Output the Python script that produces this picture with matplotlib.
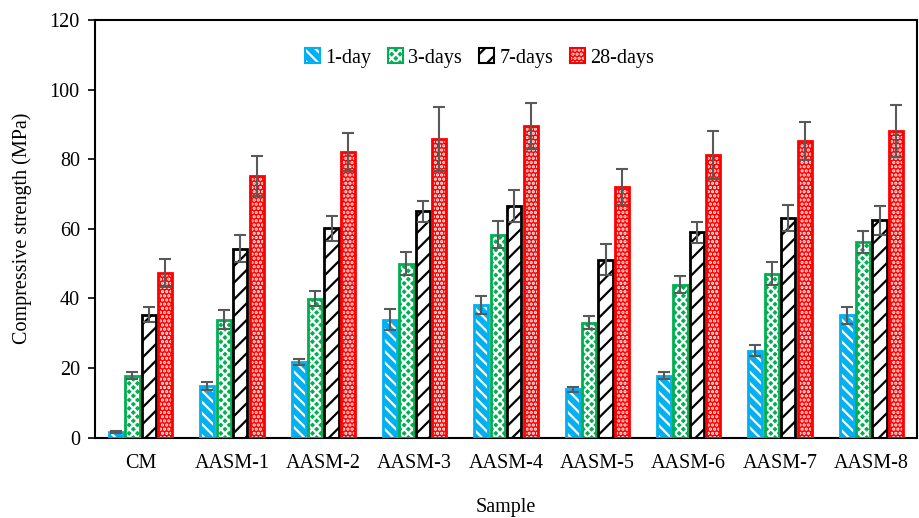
import numpy as np
import matplotlib.pyplot as plt
from matplotlib.patches import Patch
from matplotlib.legend_handler import HandlerTuple

plt.rcParams['font.family'] = ['Liberation Serif', 'DejaVu Serif']
plt.rcParams['font.size'] = 14.5
plt.rcParams['hatch.linewidth'] = 1.6

samples = ['CM', 'AASM-1', 'AASM-2', 'AASM-3', 'AASM-4',
           'AASM-5', 'AASM-6', 'AASM-7', 'AASM-8']
ages = ['1-day', '3-days', '7-days', '28-days']

day1 = [1.6, 14.8, 21.7, 33.9, 38.2, 13.8, 17.8, 25.0, 35.1]
day3 = [17.8, 33.9, 39.9, 50.0, 58.3, 33.0, 43.9, 47.0, 56.1]
day7 = [35.3, 54.3, 60.1, 65.0, 66.5, 51.1, 59.0, 63.1, 62.4]
day28 = [47.3, 75.2, 82.0, 85.8, 89.5, 72.0, 81.2, 85.2, 88.1]

err1 = [0.3, 1.1, 1.0, 2.9, 2.6, 0.7, 1.0, 1.5, 2.4]
err3 = [1.0, 2.7, 2.1, 3.2, 3.9, 1.9, 2.5, 3.3, 3.2]
err7 = [2.2, 3.8, 3.5, 3.0, 4.6, 4.4, 3.0, 3.8, 4.2]
err28 = [4.0, 5.7, 5.4, 9.3, 6.7, 5.3, 6.9, 5.5, 7.6]

values = [day1, day3, day7, day28]
errors = [err1, err3, err7, err28]
colors = ['#00B0F0', '#00B050', 'black', '#FF0000']
faces = ['#00B0F0', '#00B050', 'white', '#FF0000']
hatches = ['\\\\\\', 'xxxx', '//', '....']
hatch_cols = ['white', 'white', 'black', 'white']

fig = plt.figure(figsize=(9.2, 5.18), dpi=100)
ax = fig.add_axes([0.1033, 0.1554, 0.8934, 0.806])

x = np.arange(len(samples))
step = 0.18
width = 0.155
for i in range(4):
    pos = x + (i - 1.5) * step
    # hatch colour follows edgecolor, so draw the fill/hatch first, then the outline
    ax.bar(pos, values[i], width, color=faces[i], edgecolor=hatch_cols[i],
           hatch=hatches[i], linewidth=0, zorder=2)
    ax.bar(pos, values[i], width, color='none', edgecolor=colors[i],
           linewidth=2, zorder=3)
    ax.errorbar(pos, values[i], yerr=errors[i], fmt='none', ecolor='#595959',
                elinewidth=1.5, capsize=4, capthick=1.5, zorder=4)

ax.set_xlim(-0.5, len(samples) - 0.5)
ax.set_ylim(0, 120)
ax.set_yticks(range(0, 121, 20))
ax.set_xticks(x)
ax.set_xticklabels(samples)
ax.tick_params(axis='x', length=0, pad=12)
ax.tick_params(axis='y', direction='out', length=5, width=1.2, pad=6)
for s in ax.spines.values():
    s.set_linewidth(1.5)
ax.set_xlabel('Sample')
ax.xaxis.set_label_coords(0.5, -0.145)
ax.set_ylabel('Compressive strength (MPa)')
ax.yaxis.set_label_coords(-0.077, 0.5)

handles = []
for i in range(4):
    fill = Patch(facecolor=faces[i], edgecolor=hatch_cols[i], hatch=hatches[i], linewidth=0)
    edge = Patch(facecolor='none', edgecolor=colors[i], linewidth=1.5)
    handles.append((fill, edge))
ax.legend(handles, ages, loc='center', bbox_to_anchor=(0.468, 0.909), ncol=4,
          frameon=False, handlelength=0.75, handleheight=0.75, handletextpad=0.25,
          columnspacing=0.85, handler_map={tuple: HandlerTuple(ndivide=1, pad=0)})

fig.savefig('out.png', dpi=100)
